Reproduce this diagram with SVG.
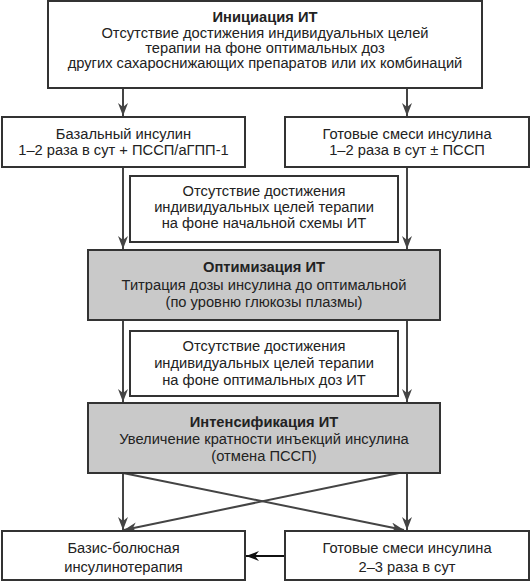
<svg xmlns="http://www.w3.org/2000/svg" width="531" height="582" viewBox="0 0 531 582">
<defs>
<style>
.box{fill:#fff;stroke:#333;stroke-width:2}
.gray{fill:#c9c9c9;stroke:#333;stroke-width:2}
text{font-family:"Liberation Sans",Arial,sans-serif;font-size:14.7px;fill:#222;text-anchor:middle}
.b{font-weight:bold}
.c{stroke:#444;stroke-width:2;fill:none}
</style>
<marker id="ah" viewBox="0 0 13 10" refX="13" refY="5" markerWidth="13" markerHeight="10" markerUnits="userSpaceOnUse" orient="auto">
<path d="M0,0 L13,5 L0,10 L4,5 z" fill="#444"/>
</marker>
<marker id="ahk" viewBox="0 0 13 10" refX="13" refY="5" markerWidth="13" markerHeight="10" markerUnits="userSpaceOnUse" orient="auto">
<path d="M0,0 L13,5 L0,10 L4,5 z" fill="#111"/>
</marker>
</defs>
<g id="connectors">
<line class="c" x1="123" y1="88" x2="123" y2="116" marker-end="url(#ah)"/>
<line class="c" x1="407" y1="88" x2="407" y2="116" marker-end="url(#ah)"/>
<line class="c" x1="123" y1="167" x2="123" y2="249" marker-end="url(#ah)"/>
<line class="c" x1="407" y1="167" x2="407" y2="249" marker-end="url(#ah)"/>
<line class="c" x1="123" y1="320" x2="123" y2="402" marker-end="url(#ah)"/>
<line class="c" x1="407" y1="320" x2="407" y2="402" marker-end="url(#ah)"/>
<line class="c" x1="123" y1="473" x2="123" y2="530" marker-end="url(#ah)"/>
<line class="c" x1="407" y1="473" x2="407" y2="530" marker-end="url(#ah)"/>
<line class="c" x1="123" y1="473" x2="404" y2="530" marker-end="url(#ah)"/>
<line class="c" x1="399" y1="473" x2="124" y2="530" marker-end="url(#ah)"/>
<line x1="285" y1="556" x2="246" y2="556" stroke="#111" stroke-width="2" marker-end="url(#ahk)"/>
</g>
<g id="init">
<rect class="box" x="48" y="1" width="434" height="87"/>
<text class="b" x="265" y="22">Инициация ИТ</text>
<text x="265" y="38">Отсутствие достижения индивидуальных целей</text>
<text x="265" y="53">терапии на фоне оптимальных доз</text>
<text x="265" y="68">других сахароснижающих препаратов или их комбинаций</text>
</g>
<g id="basal">
<rect class="box" x="2" y="117" width="243" height="50"/>
<text x="123.5" y="139">Базальный инсулин</text>
<text x="123.5" y="155">1–2 раза в сут + ПССП/аГПП-1</text>
</g>
<g id="premix1">
<rect class="box" x="285" y="117" width="244" height="50"/>
<text x="407" y="139">Готовые смеси инсулина</text>
<text x="407" y="155">1–2 раза в сут ± ПССП</text>
</g>
<g id="cond1">
<rect class="box" x="130" y="176" width="268" height="66"/>
<text x="264" y="196">Отсутствие достижения</text>
<text x="264" y="212">индивидуальных целей терапии</text>
<text x="264" y="228">на фоне начальной схемы ИТ</text>
</g>
<g id="optim">
<rect class="gray" x="88" y="250" width="352" height="70"/>
<text class="b" x="264" y="272">Оптимизация ИТ</text>
<text x="264" y="290">Титрация дозы инсулина до оптимальной</text>
<text x="264" y="307">(по уровню глюкозы плазмы)</text>
</g>
<g id="cond2">
<rect class="box" x="130" y="331" width="268" height="65"/>
<text x="264" y="351">Отсутствие достижения</text>
<text x="264" y="368">индивидуальных целей терапии</text>
<text x="264" y="385">на фоне оптимальных доз ИТ</text>
</g>
<g id="intens">
<rect class="gray" x="88" y="403" width="352" height="70"/>
<text class="b" x="264" y="427">Интенсификация ИТ</text>
<text x="264" y="444">Увеличение кратности инъекций инсулина</text>
<text x="264" y="461">(отмена ПССП)</text>
</g>
<g id="basisbolus">
<rect class="box" x="2" y="531" width="243" height="49"/>
<text x="123.5" y="553">Базис-болюсная</text>
<text x="123.5" y="572">инсулинотерапия</text>
</g>
<g id="premix2">
<rect class="box" x="285" y="531" width="244" height="49"/>
<text x="407" y="553">Готовые смеси инсулина</text>
<text x="407" y="572">2–3 раза в сут</text>
</g>
</svg>
